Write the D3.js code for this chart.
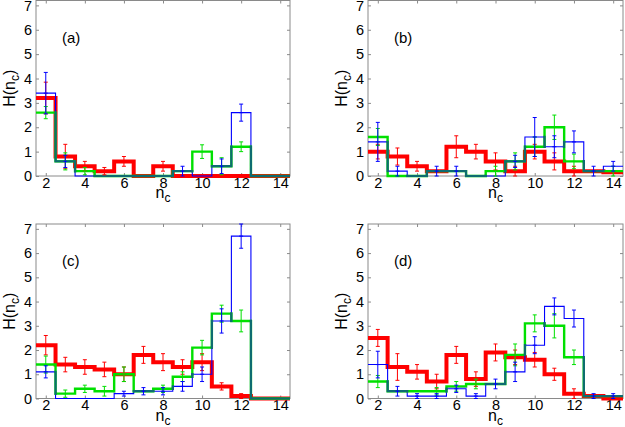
<!DOCTYPE html>
<html><head><meta charset="utf-8">
<script src="https://cdn.jsdelivr.net/npm/d3@7"></script>
<style>
body{margin:0;background:#fff}
svg{display:block}
text{font-family:"Liberation Sans",Arial,Helvetica,sans-serif;fill:#000}
</style>
</head><body>
<svg id="chart" width="625" height="427"></svg>
<script>
// ---- data ----
const bins = [2,3,4,5,6,7,8,9,10,11,12,13,14];
const xTicks = [2,4,6,8,10,12,14];
const yTicks = [0,1,2,3,4,5,6,7];
const panelLabels = ["(a)","(b)","(c)","(d)"];

const blueA    = [3.4,0.6,0,0,0,0,0,0.2,0,0.4,2.6,0,0];
const blueErrA = [0.85,0.25,0,0,0,0,0,0.2,0,0.3,0.35,0,0];
const greenA    = [2.6,0.6,0.2,0,0,0,0,0.2,1.0,0.4,1.2,0,0];
const greenErrA = [0.25,0.35,0.15,0,0,0,0,0,0.28,0.35,0.2,0,0];
const redA    = [3.2,0.8,0.4,0.2,0.6,0,0.4,0,0,0,0,0,0];
const redErrA = [0.65,0.5,0.2,0.15,0.2,0,0.2,0,0,0,0,0,0];

const blueB    = [1.4,0.2,0,0.2,0.2,0,0,0.6,1.6,1.2,1.4,0.2,0.4];
const blueErrB = [0.8,0.2,0,0.2,0.2,0,0,0.25,0.8,0.45,0.45,0.2,0.2];
const greenB    = [1.6,0,0,0.2,0.2,0,0.2,0.6,1.2,2.0,0.6,0.2,0.2];
const greenErrB = [0.35,0,0,0,0,0,0.2,0.35,0.4,0.5,0.3,0,0.2];
const redB    = [1.0,0.8,0.4,0.2,1.2,1.0,0.6,0.2,1.0,0.6,0.2,0.2,0.15];
const redErrB = [0.3,0.35,0.2,0,0.45,0.3,0.35,0.2,0.3,0.35,0.2,0,0];

const blueC    = [1.1,0,0,0,0.2,0.3,0.3,0.5,1.0,3.2,6.7,0,0];
const blueErrC = [0.25,0,0,0,0.1,0.15,0.15,0.2,0.3,0.5,0.5,0,0];
const greenC    = [1.4,0.2,0.4,0.3,1.0,0.3,0.4,0.9,2.1,3.5,3.2,0,0];
const greenErrC = [0.35,0.15,0.15,0.2,0.3,0,0.15,0.2,0.3,0.35,0.45,0,0];
const redC    = [2.2,1.4,1.3,1.2,1.0,1.8,1.5,1.3,1.5,0.5,0.1,0,0];
const redErrC = [0.4,0.3,0.3,0.3,0.3,0.35,0.35,0.3,0.35,0.15,0.1,0,0];

const blueD    = [1.4,0.3,0.1,0.1,0.4,0.1,0.6,1.1,2.2,3.8,3.3,0.1,0.1];
const blueErrD = [0.55,0.2,0.1,0.1,0.15,0.1,0.2,0.4,0.35,0.35,0.35,0.1,0.1];
const greenD    = [0.7,0.3,0.3,0.3,0.5,0.6,0.6,1.8,3.1,3.0,1.7,0.1,0.1];
const greenErrD = [0.25,0,0,0.15,0.2,0.2,0,0.45,0.35,0.5,0.3,0,0];
const redD    = [2.5,1.3,1.1,0.7,1.8,0.8,1.9,1.7,1.6,1.0,0.2,0.1,0];
const redErrD = [0.35,0.55,0.3,0.3,0.35,0.3,0.35,0.3,0.3,0.25,0.2,0,0];

const panels = [
  {label: panelLabels[0], blue: blueA, blueErr: blueErrA, green: greenA, greenErr: greenErrA, red: redA, redErr: redErrA},
  {label: panelLabels[1], blue: blueB, blueErr: blueErrB, green: greenB, greenErr: greenErrB, red: redB, redErr: redErrB},
  {label: panelLabels[2], blue: blueC, blueErr: blueErrC, green: greenC, greenErr: greenErrC, red: redC, redErr: redErrC},
  {label: panelLabels[3], blue: blueD, blueErr: blueErrD, green: greenD, greenErr: greenErrD, red: redD, redErr: redErrD}
];

// ---- layout ----
const boxes = [
  {l: 36,  r: 290, t: 0.5, b: 176},
  {l: 368, r: 623, t: 0.5, b: 176},
  {l: 36,  r: 290, t: 224, b: 398.5},
  {l: 368, r: 623, t: 224, b: 398.5}
];
const COL = {blue: "#0000ff", green: "#00e000", red: "#ff0000", teal: "#0d6c70", box: "#8a8a8a"};

const svg = d3.select("#chart");

panels.forEach((p, pi) => {
  const bx = boxes[pi];
  const x = d3.scaleLinear().domain([1.5, 14.5]).range([bx.l, bx.r]);
  const y = d3.scaleLinear().domain([0, 7.2]).range([bx.b, bx.t]);
  const g = svg.append("g");

  // box
  g.append("rect").attr("x", bx.l).attr("y", bx.t).attr("width", bx.r - bx.l).attr("height", bx.b - bx.t)
    .attr("fill", "none").attr("stroke", COL.box).attr("stroke-width", 1);

  // axes (ticks inward) with labels
  const fmt = d3.format("d");
  const xAxis = d3.axisBottom(x).tickValues(xTicks).tickFormat(fmt).tickSizeInner(-3).tickSizeOuter(0).tickPadding(1.5);
  const yAxis = d3.axisLeft(y).tickValues(yTicks).tickFormat(fmt).tickSizeInner(-3).tickSizeOuter(0).tickPadding(4);
  const xa = g.append("g").attr("transform", `translate(0,${bx.b})`).call(xAxis);
  const ya = g.append("g").attr("transform", `translate(${bx.l},0)`).call(yAxis);
  [xa, ya].forEach(a => {
    a.select(".domain").remove();
    a.selectAll("line").attr("stroke", COL.box);
    a.selectAll("text").style("font-size", "14.5px").attr("fill", "#000");
  });
  // top & right ticks
  const xt = g.append("g").attr("transform", `translate(0,${bx.t})`).call(d3.axisTop(x).tickValues(xTicks).tickSizeInner(-3).tickSizeOuter(0).tickFormat(""));
  const yr = g.append("g").attr("transform", `translate(${bx.r},0)`).call(d3.axisRight(y).tickValues(yTicks).tickSizeInner(-3).tickSizeOuter(0).tickFormat(""));
  [xt, yr].forEach(a => { a.select(".domain").remove(); a.selectAll("line").attr("stroke", COL.box); });

  // step line generator
  const stepPts = vals => {
    const pts = vals.map((v, i) => [bins[i] - 0.5, v]);
    pts.push([bins[bins.length - 1] + 0.5, vals[vals.length - 1]]);
    return pts;
  };
  const line = d3.line().x(d => x(d[0])).y(d => y(d[1])).curve(d3.curveStepAfter);

  g.append("path").attr("d", line(stepPts(p.red))).attr("fill", "none").attr("stroke", COL.red).attr("stroke-width", 4);
  g.append("path").attr("d", line(stepPts(p.blue))).attr("fill", "none").attr("stroke", COL.blue).attr("stroke-width", 1.1);
  g.append("path").attr("d", line(stepPts(p.green))).attr("fill", "none").attr("stroke", COL.green).attr("stroke-width", 2.4);

  // overlap of blue & green drawn dark teal
  const maskId = "m" + pi;
  const mask = svg.append("defs").append("mask").attr("id", maskId).attr("maskUnits", "userSpaceOnUse")
    .attr("x", 0).attr("y", 0).attr("width", 625).attr("height", 427);
  mask.append("path").attr("d", line(stepPts(p.green))).attr("fill", "none").attr("stroke", "#fff").attr("stroke-width", 2.6);
  g.append("path").attr("d", line(stepPts(p.blue))).attr("fill", "none").attr("stroke", COL.teal)
    .attr("stroke-width", 2.4).attr("mask", `url(#${maskId})`);

  // error bars
  const cap = 2;
  const drawErr = (vals, errs, color) => {
    const eg = g.append("g").attr("stroke", color).attr("stroke-width", 1).attr("fill", "none");
    vals.forEach((v, i) => {
      const e = errs[i];
      if (!e) return;
      const cx = x(bins[i]);
      eg.append("line").attr("x1", cx).attr("x2", cx).attr("y1", y(v - e)).attr("y2", y(v + e));
      eg.append("line").attr("x1", cx - cap).attr("x2", cx + cap).attr("y1", y(v - e)).attr("y2", y(v - e));
      eg.append("line").attr("x1", cx - cap).attr("x2", cx + cap).attr("y1", y(v + e)).attr("y2", y(v + e));
      eg.append("line").attr("x1", cx - cap).attr("x2", cx + cap).attr("y1", y(v)).attr("y2", y(v));
    });
  };
  drawErr(p.red, p.redErr, COL.red);
  drawErr(p.green, p.greenErr, COL.green);
  drawErr(p.blue, p.blueErr, COL.blue);

  // panel label
  g.append("text").attr("x", bx.l + 26).attr("y", bx.t + 42).style("font-size", "15px").text(p.label);

  // axis titles
  const xl = g.append("text").attr("x", (bx.l + bx.r) / 2).attr("y", bx.b + 22).attr("text-anchor", "middle").style("font-size", "16px");
  xl.append("tspan").text("n");
  xl.append("tspan").attr("dy", 4).style("font-size", "12px").text("c");

  const yl = g.append("text").attr("transform", `translate(${bx.l - 21},${(bx.t + bx.b) / 2}) rotate(-90)`)
    .attr("text-anchor", "middle").style("font-size", "16px");
  yl.append("tspan").text("H(n");
  yl.append("tspan").attr("dy", 4).style("font-size", "12px").text("c");
  yl.append("tspan").attr("dy", -4).text(")");
});
</script>
</body></html>
